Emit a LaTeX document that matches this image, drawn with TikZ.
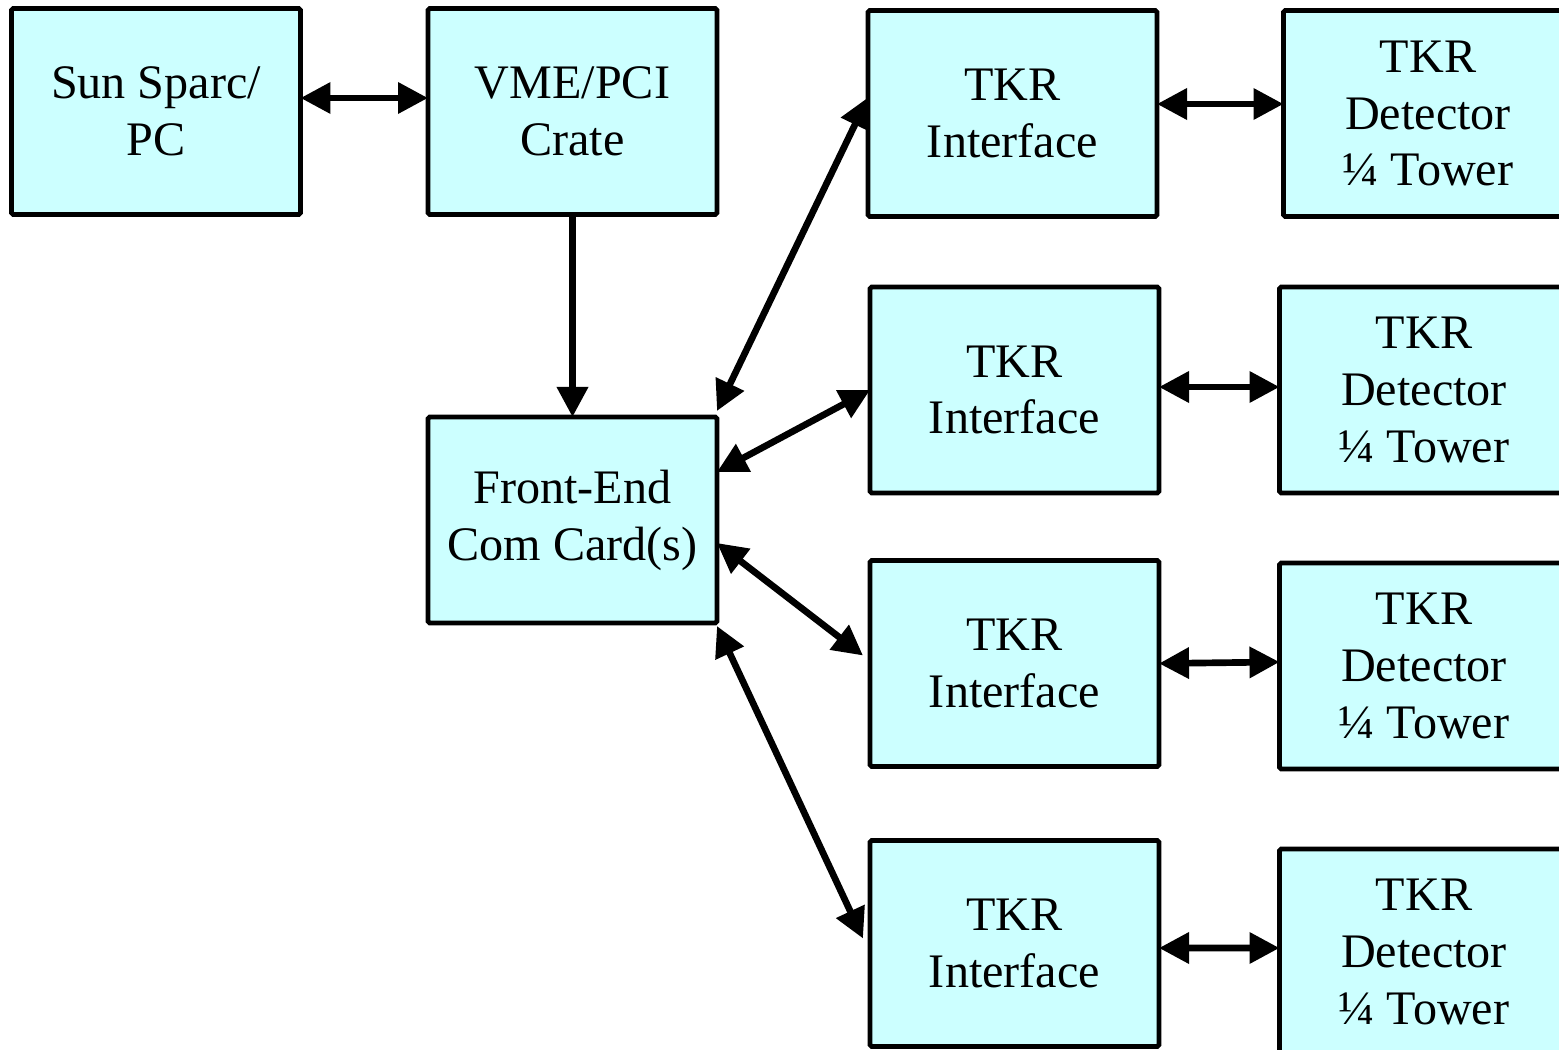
\documentclass[tikz,border=0pt]{standalone}
\usepackage{fontspec}
\setmainfont{Liberation Serif}
\usepackage{tikz}
\usetikzlibrary{positioning, arrows.meta}
\definecolor{boxcyan}{HTML}{CCFFFF}

\begin{document}
\begin{tikzpicture}[x=0.1mm, y=-0.1mm, >={Triangle[length=3mm, width=3mm]}]
  \tikzstyle{block}=[draw=black, line width=1.4pt, fill=boxcyan, rounded corners=0.5pt,
    outer sep=0pt, minimum width=2.89cm, minimum height=2.06cm, align=center,
    font=\fontsize{13.7}{16.2}\selectfont];
  \tikzstyle{link}=[line width=1.9pt];
  \useasboundingbox (0,0) rectangle (1559,1050);
  \clip (0,0) rectangle (1559,1050);

  \node [block] at (156,111.5)   (Sun)  {Sun Sparc/\\PC};
  \node [block] at (572.5,111.5) (VME)  {VME/PCI\\Crate};
  \node [block] at (572.5,520)   (FrontEnd) {Front-End\\Com Card(s)};

  \node [block] at (1012.5,113.5) (IfaceA) {TKR\\Interface};
  \node [block] at (1014.5,390)   (IfaceB) {TKR\\Interface};
  \node [block] at (1014.5,663.5) (IfaceC) {TKR\\Interface};
  \node [block] at (1014.5,943.5) (IfaceD) {TKR\\Interface};

  \node [block] at (1428,113.5) (TowerA) {TKR\\Detector\\¼ Tower};
  \node [block] at (1424,390)   (TowerB) {TKR\\Detector\\¼ Tower};
  \node [block] at (1424,666)   (TowerC) {TKR\\Detector\\¼ Tower};
  \node [block] at (1424,952)   (TowerD) {TKR\\Detector\\¼ Tower};

  \path[link, <->] ([yshift=1.35mm]Sun.east) edge ([yshift=1.35mm]VME.west);
  \path[link, ->] (VME.south) edge (FrontEnd.north);

  \path[link, <->] ([yshift=0.6mm]FrontEnd.north east) edge ([yshift=1.6mm]IfaceA.west);
  \path[link, <->] ([yshift=4.8mm]FrontEnd.east) edge (IfaceB.west);
  \path[link, <->] ([yshift=-2.3mm]FrontEnd.east) edge ([xshift=-0.7mm, yshift=0.8mm]IfaceC.west);
  \path[link, <->] ([yshift=-0.3mm]FrontEnd.south east) edge ([xshift=-0.7mm, yshift=0.5mm]IfaceD.west);

  \path[link, <->] ([yshift=0.95mm]IfaceA.east) edge ([yshift=0.95mm]TowerA.west);
  \path[link, <->] ([yshift=0.3mm]IfaceB.east) edge ([yshift=0.3mm]TowerB.west);
  \path[link, <->] (IfaceC.east) edge ([yshift=0.4mm]TowerC.west);
  \path[link, <->] ([yshift=-0.45mm]IfaceD.east) edge ([yshift=0.4mm]TowerD.west);
\end{tikzpicture}
\end{document}
